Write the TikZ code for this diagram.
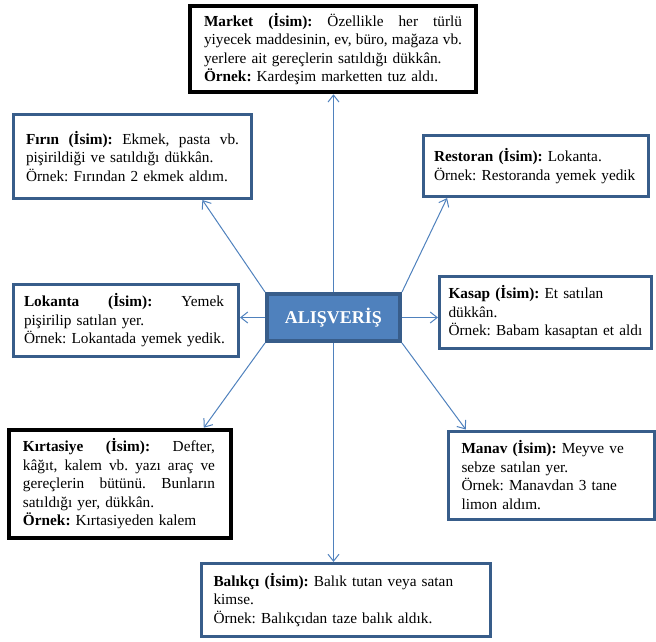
\documentclass[tikz,border=0pt]{standalone}
\usepackage{fontspec}
\setmainfont{Liberation Serif}
\usetikzlibrary{arrows.meta,calc}
\definecolor{boxblue}{HTML}{385D8A}
\definecolor{linkblue}{HTML}{4F81BD}
\definecolor{hubfill}{HTML}{4F81BD}
\newcommand{\jline}[2]{\makebox[#1][s]{\spaceskip=0.25em plus 1fil\relax#2}}
\begin{document}
\begin{tikzpicture}[x=1pt,y=-1pt,
  card/.style={draw=boxblue,line width=3pt,fill=white,rectangle,inner sep=0pt,align=left,font=\fontsize{15.3}{18.5}\selectfont\frenchspacing},
  bcard/.style={card,draw=black,line width=4.5pt},
  hub/.style={draw=boxblue,fill=hubfill,line width=4pt,rectangle,inner sep=0pt,text=white,font=\fontsize{18}{20}\selectfont\bfseries},
  link/.style={draw=linkblue,line width=1pt,-{Straight Barb[length=7pt,width=11pt]}},
]
\useasboundingbox (0,0) rectangle (656,641);

\node[bcard,minimum width=286pt,minimum height=86pt,text width=258pt] (market) at (333,49)
 {\jline{258pt}{\textbf{Market (İsim):} Özellikle her türlü}\\
  \jline{258pt}{yiyecek maddesinin, ev, büro, mağaza vb.}\\
  yerlere ait gereçlerin satıldığı dükkân.\\
  \textbf{Örnek:} Kardeşim marketten tuz aldı.};

\node[card,minimum width=238pt,minimum height=84pt,text width=213pt] (firin) at (132.5,156.5)
 {\jline{213pt}{\textbf{Fırın (İsim):} Ekmek, pasta vb.}\\
  pişirildiği ve satıldığı dükkân.\\
  Örnek: Fırından 2 ekmek aldım.};

\node[card,minimum width=225pt,minimum height=61pt,text width=204pt] (restoran) at (536,166)
 {\textbf{Restoran (İsim):} Lokanta.\\
  Örnek: Restoranda yemek yedik};

\node[card,minimum width=225pt,minimum height=72pt,text width=204pt] (lokanta) at (126,320.5)
 {\jline{200pt}{\textbf{Lokanta (İsim):} Yemek}\\
  pişirilip satılan yer.\\
  Örnek: Lokantada yemek yedik.};

\node[card,minimum width=212pt,minimum height=72pt,text width=194pt] (kasap) at (545.5,312.5)
 {\textbf{Kasap (İsim):} Et satılan\\
  dükkân.\\
  Örnek: Babam kasaptan et aldı};

\node[bcard,minimum width=222pt,minimum height=108pt,text width=194pt] (kirtasiye) at (120,484)
 {\jline{192pt}{\textbf{Kırtasiye (İsim):} Defter,}\\
  \jline{192pt}{kâğıt, kalem vb. yazı araç ve}\\
  \jline{192pt}{gereçlerin bütünü. Bunların}\\
  satıldığı yer, dükkân.\\
  \textbf{Örnek:} Kırtasiyeden kalem};

\node[card,minimum width=206pt,minimum height=88pt,text width=180pt] (manav) at (551.5,475)
 {\textbf{Manav (İsim):} Meyve ve\\
  sebze satılan yer.\\
  Örnek: Manavdan 3 tane\\
  limon aldım.};

\node[card,minimum width=289pt,minimum height=73pt,text width=265pt] (balikci) at (346,600)
 {\textbf{Balıkçı (İsim):} Balık tutan veya satan\\
  kimse.\\
  Örnek: Balıkçıdan taze balık aldık.};

\node[hub,minimum width=133pt,minimum height=47pt] (hub) at (333.5,317.5) {ALIŞVERİŞ};

\coordinate (tfirin) at ($(firin.south west)!0.79!(firin.south east)$);
\coordinate (trest) at ($(restoran.south west)!0.11!(restoran.south east)$);
\coordinate (tkirt) at ($(kirtasiye.north west)!0.87!(kirtasiye.north east)$);
\coordinate (tmanav) at ($(manav.north west)!0.09!(manav.north east)$);

\draw[link] (hub.north) -- (hub.north |- market.south);
\draw[link] (hub.north west) -- (tfirin);
\draw[link] (hub.north east) -- (trest);
\draw[link] (hub.west) -- (hub.west -| lokanta.east);
\draw[link] (hub.east) -- (hub.east -| kasap.west);
\draw[link] (hub.south west) -- (tkirt);
\draw[link] (hub.south east) -- (tmanav);
\draw[link] (hub.south) -- (hub.south |- balikci.north);
\end{tikzpicture}
\end{document}
